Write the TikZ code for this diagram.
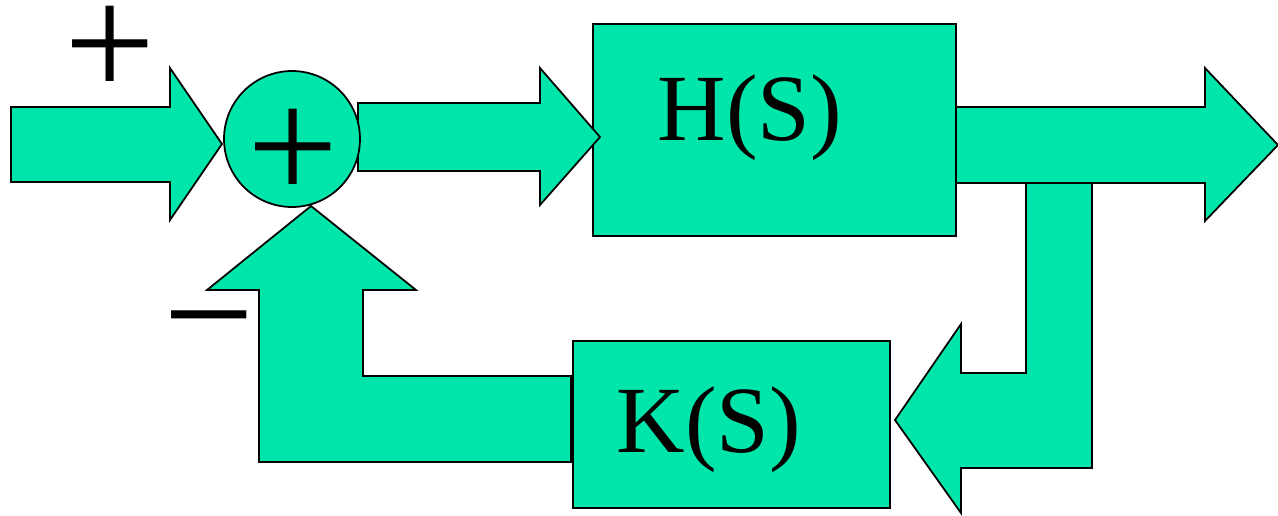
\documentclass[tikz,border=0pt]{standalone}
\usepackage{fontspec}
\setmainfont{Liberation Serif}
\usetikzlibrary{shapes, positioning}

\definecolor{flowgreen}{RGB}{0,229,170}

\begin{document}
\begin{tikzpicture}[x=0.02cm, y=-0.02cm, line width=1pt, line join=miter,
    flow/.style={draw=black, fill=flowgreen},
    block/.style={draw=black, fill=flowgreen, inner sep=0pt},
    blocktext/.style={inner sep=0pt, anchor=base, font=\fontsize{54}{60}\selectfont},
    sign/.style={inner sep=0pt, font=\fontsize{92}{96}\selectfont}]
    \useasboundingbox (0,0) rectangle (1278,515);

    \node[block, minimum width=7.26cm, minimum height=4.24cm] (hs) at (774.5,130) {};
    \node[blocktext] (hs-text) at (750,140) {H(S)};
    \node[block, minimum width=6.34cm, minimum height=3.34cm] (ks) at (731.5,424.5) {};
    \node[blocktext] (ks-text) at (709,452) {K(S)};

    % input and forward arrows
    \draw[flow] (11,107) -- (170,107) -- (170,68) -- (222,144) -- (170,220) -- (170,182) -- (11,182) -- cycle;
    \draw[flow] (358,103) -- (540,103) -- (540,68) -- (600,137) -- (540,205) -- (540,171) -- (358,171) -- cycle;

    % take-off from the output down into K(S)
    \draw[flow] (1026,180) -- (1092,180) -- (1092,468) -- (961,468) -- (961,513) -- (895,420)
        -- (961,324) -- (961,373) -- (1026,373) -- cycle;
    \draw[flow] (956,107) -- (1205,107) -- (1205,68) -- (1278,145) -- (1205,221) -- (1205,183) -- (956,183) -- cycle;

    % feedback path back up to the summing point
    \draw[flow] (571,376) -- (571,462) -- (259,462) -- (259,290) -- (207,290) -- (311,206)
        -- (416,290) -- (363,290) -- (363,376) -- cycle;

    \node[block, circle, minimum size=2.72cm] (sum) at (292,139) {};
    \node[sign] (sum-plus) at (293,155) {+};
    \node[sign] (plus1) at (110,52) {+};
    \node[sign] (minus1) at (209,340) {−};
\end{tikzpicture}
\end{document}
